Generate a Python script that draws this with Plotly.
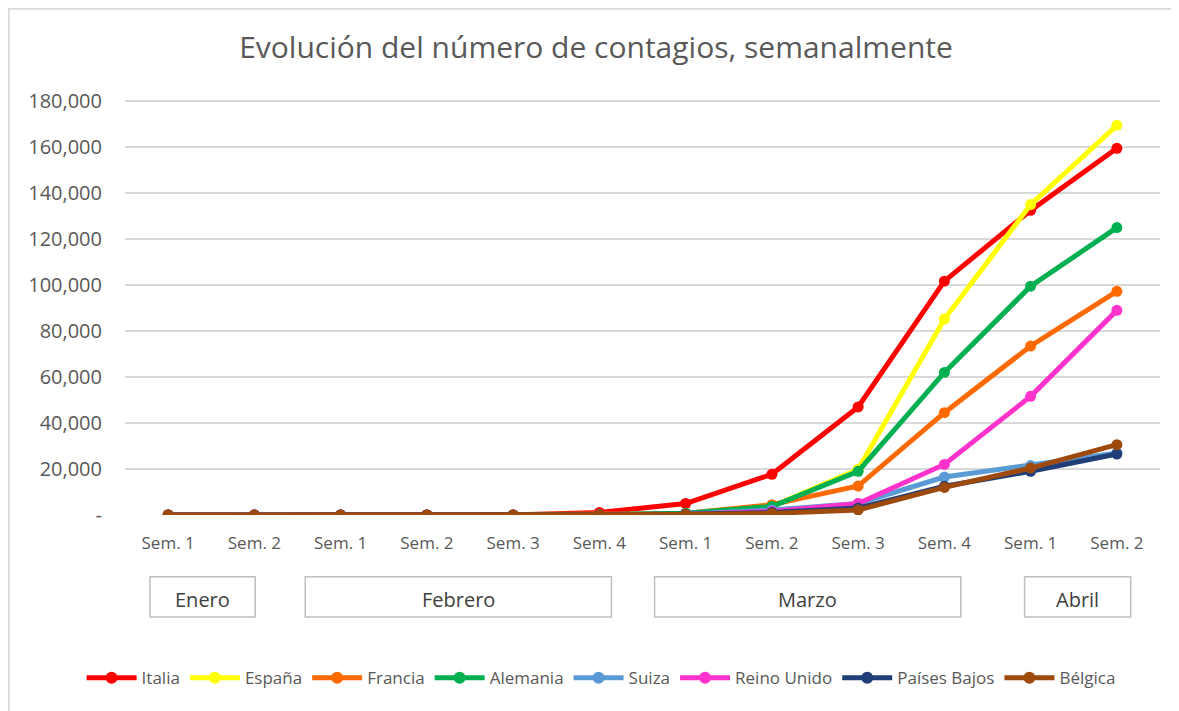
import plotly.graph_objects as go

categories = ["Sem. 1", "Sem. 2", "Sem. 1", "Sem. 2", "Sem. 3", "Sem. 4",
              "Sem. 1", "Sem. 2", "Sem. 3", "Sem. 4", "Sem. 1", "Sem. 2"]
months = ["Enero", "Febrero", "Marzo", "Abril"]

italia = [0, 0, 3, 3, 3, 1100, 5000, 17700, 47000, 101700, 132500, 159500]
espana = [0, 0, 1, 2, 2, 45, 400, 3700, 19900, 85200, 135000, 169500]
francia = [0, 0, 6, 12, 12, 100, 700, 4500, 12600, 44500, 73500, 97300]
alemania = [0, 0, 10, 16, 16, 60, 800, 3700, 19000, 62000, 99500, 125000]
suiza = [0, 0, 0, 0, 0, 10, 300, 2200, 5000, 16500, 21500, 27000]
reino_unido = [0, 0, 2, 9, 9, 20, 300, 1500, 5000, 22000, 51600, 89000]
paises_bajos = [0, 0, 0, 0, 0, 5, 300, 1100, 3000, 12500, 19000, 26500]
belgica = [0, 0, 0, 1, 1, 1, 200, 700, 2200, 12000, 20400, 30600]

series = [
    ("Italia", italia, "#FF0000"),
    ("España", espana, "#FFFF00"),
    ("Francia", francia, "#FF6A00"),
    ("Alemania", alemania, "#00B050"),
    ("Suiza", suiza, "#5B9BD5"),
    ("Reino Unido", reino_unido, "#FF33CC"),
    ("Países Bajos", paises_bajos, "#203F78"),
    ("Bélgica", belgica, "#9E4A0C"),
]

y_ticks = list(range(0, 180001, 20000))
y_ticktext = ["-"] + [f"{v:,}" for v in y_ticks[1:]]

FONT = "Open Sans, Noto Sans, sans-serif"
x_idx = list(range(len(categories)))

# page body has an 8px offset; plot area placed to match reference pixels
L, T, PW, PH = 117, 92, 1035, 415

fig = go.Figure()
for name, vals, col in series:
    fig.add_trace(go.Scatter(
        x=x_idx, y=vals, name=name, mode="lines+markers",
        line=dict(color=col, width=5),
        marker=dict(color=col, size=11),
    ))

# month boxes (layout positions in category index units)
box_spans = [(-0.21, 1.01), (1.59, 5.14), (5.64, 9.19), (9.93, 11.16)]
for (x0, x1), m in zip(box_spans, months):
    fig.add_shape(type="rect", xref="x", yref="paper", x0=x0, x1=x1,
                  y0=-0.246, y1=-0.149, line=dict(color="#BFBFBF", width=1.5),
                  fillcolor="white", layer="above")
    fig.add_annotation(xref="x", yref="paper", x=(x0 + x1) / 2, y=-0.203,
                       yanchor="middle", xanchor="center",
                       text=m, showarrow=False,
                       font=dict(family=FONT, size=20, color="#404040"))

# chart border
fig.add_shape(type="rect", xref="paper", yref="paper",
              x0=(0.8 - L) / PW, x1=1.2, y0=(PH + T - 0.8) / PH, y1=-1,
              line=dict(color="#D9D9D9", width=2), fillcolor="rgba(0,0,0,0)")

fig.update_layout(
    width=1179, height=711,
    margin=dict(l=L, r=1179 - L - PW, t=T, b=711 - T - PH, autoexpand=False),
    paper_bgcolor="white", plot_bgcolor="white",
    title=dict(text="Evolución del número de contagios, semanalmente",
               x=(596 - 8) / 1179, xanchor="center", y=1 - 39 / 711, yanchor="middle",
               font=dict(family=FONT, size=30, color="#595959")),
    xaxis=dict(range=[-0.5, 11.5], tickmode="array", tickvals=x_idx,
               ticktext=categories, showgrid=False, zeroline=False,
               showline=False, ticks="", ticklabelstandoff=16,
               tickfont=dict(family=FONT, size=17, color="#595959")),
    yaxis=dict(range=[0, 180500], tickmode="array", tickvals=y_ticks,
               ticktext=y_ticktext, showgrid=True, gridcolor="#D9D9D9",
               gridwidth=1.5, zeroline=False, showline=False, ticks="",
               ticklabelstandoff=22,
               tickfont=dict(family=FONT, size=20, color="#595959")),
    legend=dict(orientation="h", x=0.46, xanchor="center", y=-0.393,
                yanchor="middle", font=dict(family=FONT, size=17, color="#595959"),
                itemwidth=50, tracegroupgap=0, itemsizing="constant"),
    showlegend=True,
)

fig.write_html("out.html")
